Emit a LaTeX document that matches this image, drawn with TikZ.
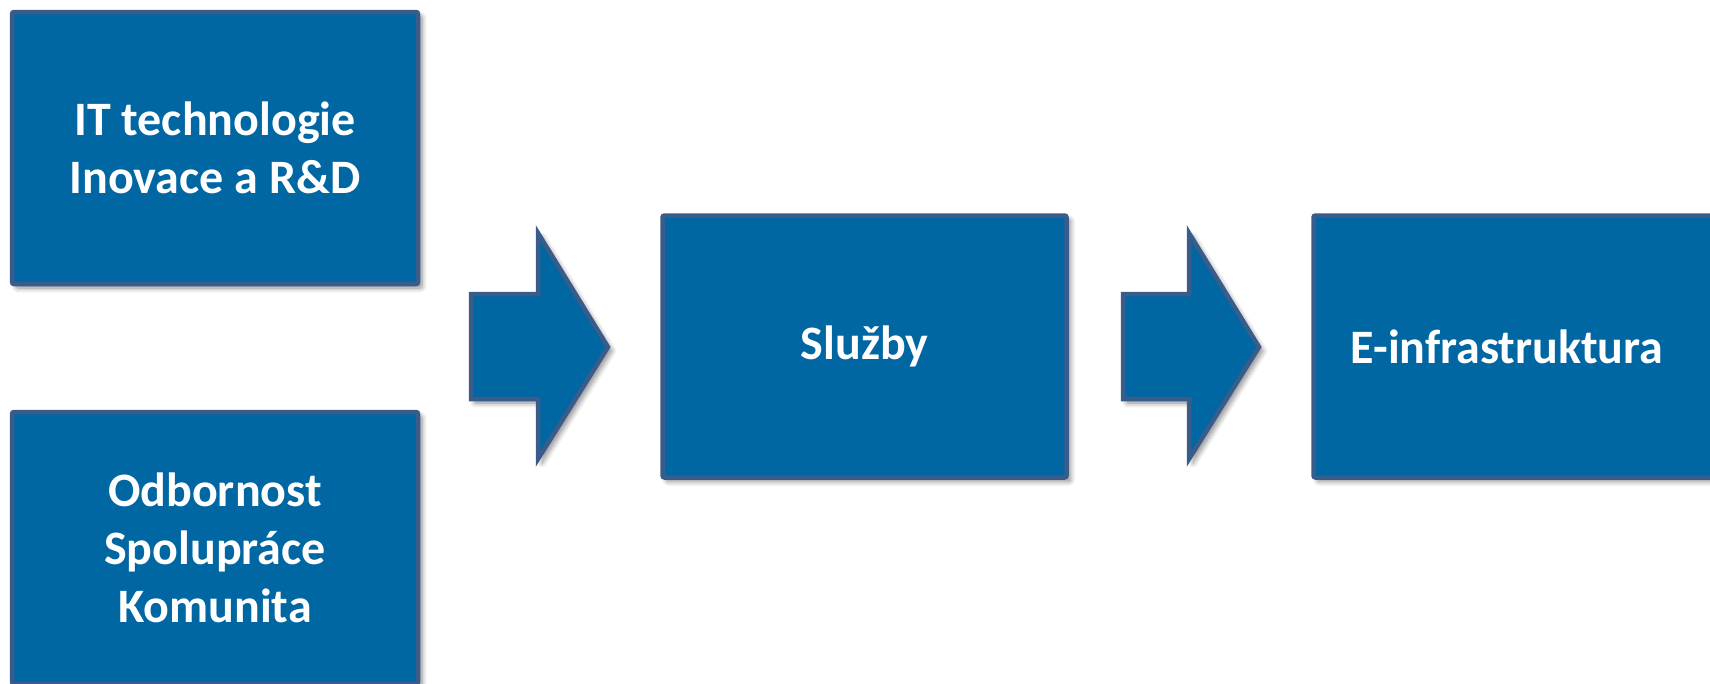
\documentclass[tikz,border=0pt]{standalone}
\usepackage{fontspec}
\setmainfont{Carlito}
\usetikzlibrary{shadows.blur}
\definecolor{boxfill}{RGB}{0,103,163}
\definecolor{boxline}{RGB}{58,92,138}
\tikzset{
  blockbox/.style={draw=boxline, line width=4.5pt, fill=boxfill, rounded corners=2pt,
    blur shadow={shadow xshift=4pt, shadow yshift=-4pt, shadow blur steps=8, shadow blur radius=5pt, shadow opacity=45},
    text=white, font=\fontsize{48}{58}\selectfont\bfseries, align=center, inner sep=0pt},
  blocktext/.style={text=white, font=\fontsize{48}{58}\selectfont\bfseries, inner sep=0pt},
  blockarrow/.style={draw=boxline, line width=4.5pt, fill=boxfill, line join=miter,
    blur shadow={shadow xshift=4pt, shadow yshift=-4pt, shadow blur steps=8, shadow blur radius=5pt, shadow opacity=45}}
}
\begin{document}
\begin{tikzpicture}[x=1pt,y=-1pt]
\useasboundingbox (0,0) rectangle (1710,683);
\clip (0,0) rectangle (1710,683);
\node[blockbox, minimum width=406pt, minimum height=272pt] (it) at (215,148) {IT technologie\\Inovace a R\&D};
\node[blockbox, minimum width=406pt, minimum height=272pt] (odb) at (215,548) {Odbornost\\Spolupráce\\Komunita};
\node[blockbox, minimum width=404pt, minimum height=262pt] (sl) at (864.5,346.5) {Služby};
\node[blockbox, minimum width=440pt, minimum height=262pt, anchor=west] (ei) at (1311.25,346.5) {};
\node[blocktext] (eit) at (1507,346.5) {E-infrastruktura};
\draw[blockarrow] (471,294) -- (538,294) -- (538,233) -- (608,347) -- (538,459) -- (538,399) -- (471,399) -- cycle;
\draw[blockarrow] (1123,294) -- (1189,294) -- (1189,233) -- (1259,347) -- (1189,459) -- (1189,399) -- (1123,399) -- cycle;
\end{tikzpicture}
\end{document}
